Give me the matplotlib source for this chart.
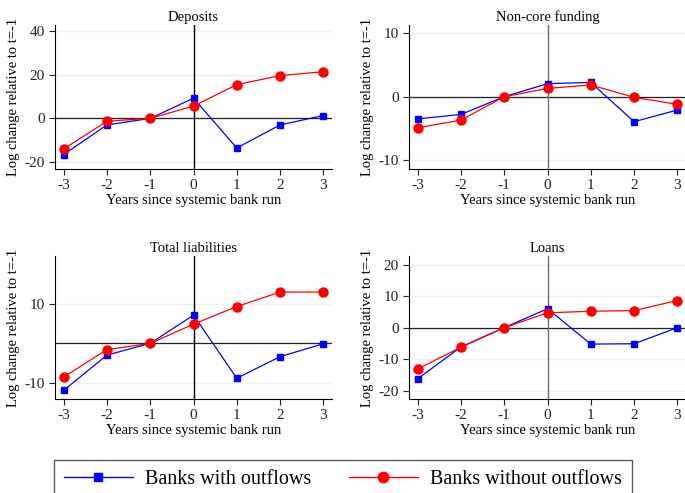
import numpy as np
import matplotlib.pyplot as plt
from matplotlib.lines import Line2D

plt.rcParams['font.family'] = ['Liberation Serif', 'DejaVu Serif']
plt.rcParams['axes.unicode_minus'] = False

years = [-3, -2, -1, 0, 1, 2, 3]

# panels: title, blue (with outflows), red (without outflows)
titles = ["Deposits", "Non-core funding", "Total liabilities", "Loans"]
with_out = [
    [-16.5, -3.0, 0.0, 9.2, -13.5, -3.0, 1.3],
    [-3.5, -2.8, 0.0, 2.05, 2.25, -3.95, -2.1],
    [-12.0, -3.0, 0.0, 7.2, -8.9, -3.4, -0.1],
    [-16.2, -6.1, 0.0, 6.0, -5.2, -5.1, 0.0],
]
without_out = [
    [-14.0, -1.3, 0.0, 5.6, 15.4, 19.5, 21.3],
    [-4.9, -3.7, 0.0, 1.3, 1.85, -0.1, -1.2],
    [-8.6, -1.6, 0.0, 4.9, 9.4, 13.1, 13.1],
    [-13.1, -6.2, 0.0, 4.7, 5.2, 5.4, 8.6],
]
yticks = [[-20, 0, 20, 40], [-10, 0, 10], [-10, 10], [-20, -10, 0, 10, 20]]
ylims = [(-23.1, 42.6), (-11.4, 11.3), (-14.2, 22.3), (-22.6, 22.7)]
vline_col = ["black", "#707070", "black", "#707070"]

W, H = 685, 493
fig = plt.figure(figsize=(W / 100, H / 100), dpi=100)

# axes boxes in pixels: left, top, width, height
boxes = [(55, 25, 277, 144), (409, 25, 277, 144),
         (55, 256, 277, 143), (409, 256, 277, 143)]

for i in range(4):
    l, t, w, h = boxes[i]
    ax = fig.add_axes([l / W, 1 - (t + h) / H, w / W, h / H])
    ax.set_xlim(-3.2, 3.2)
    ax.set_ylim(*ylims[i])
    for yv in yticks[i]:
        ax.axhline(yv, color="#eaf2f3", lw=1.0, zorder=0)
    ax.axhline(0, color="#222222", lw=0.9, zorder=1)
    ax.axvline(0, color=vline_col[i], lw=1.0, zorder=1)
    ax.plot(years, with_out[i], color="#0000ff", lw=0.9, marker="s",
            ms=5, zorder=3)
    ax.plot(years, without_out[i], color="#ff0000", lw=0.9, marker="o",
            ms=6.5, zorder=3)
    ax.set_xticks(years)
    ax.set_yticks(yticks[i])
    ax.tick_params(labelsize=11, colors="#222222", length=4, width=0.8)
    ax.spines["top"].set_visible(False)
    ax.spines["right"].set_visible(False)
    ax.spines["left"].set_linewidth(0.8)
    ax.spines["bottom"].set_linewidth(0.8)
    ax.set_title(titles[i], fontsize=10.5, pad=3)
    ax.set_xlabel("Years since systemic bank run", fontsize=10.5, labelpad=1)
    ax.set_ylabel("Log change relative to t=-1", fontsize=10.5, labelpad=3)

handles = [
    Line2D([], [], color="#0000ff", lw=1.0, marker="s", ms=6),
    Line2D([], [], color="#ff0000", lw=1.0, marker="o", ms=7.5),
]
fig.legend(handles, ["Banks with outflows", "Banks without outflows"],
           loc="upper left", bbox_to_anchor=(54 / W, 1 - 460 / H), ncol=2,
           fontsize=14.5, frameon=True, fancybox=False, edgecolor="#333333",
           handlelength=3.4, columnspacing=1.9, borderpad=0.5,
           handletextpad=0.6, borderaxespad=0)

fig.savefig("out.png", dpi=100)
